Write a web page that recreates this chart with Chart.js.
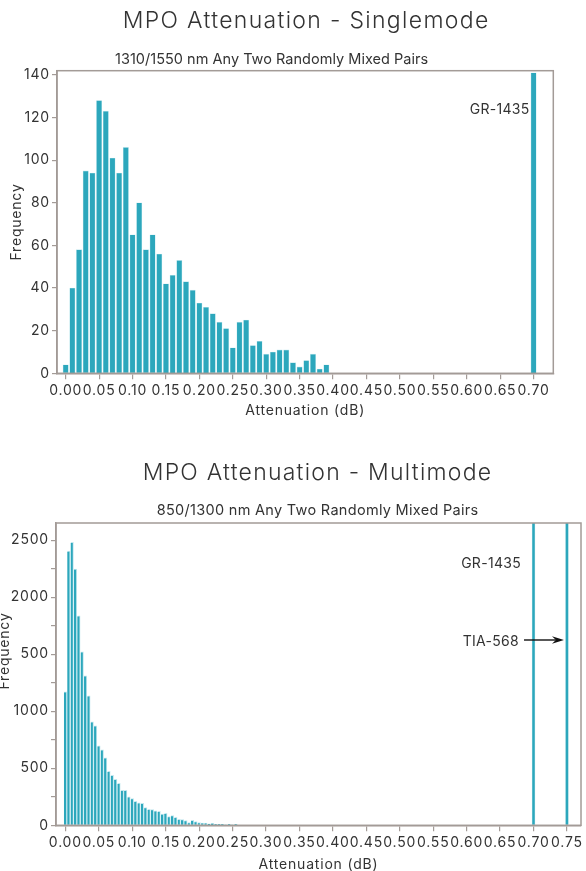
<!DOCTYPE html>
<html><head><meta charset="utf-8">
<script src="https://cdn.jsdelivr.net/npm/chart.js@4.4.1/dist/chart.umd.min.js"></script>
<style>
html,body{margin:0;padding:0;background:#fff;width:586px;height:871px;overflow:hidden;position:relative}
.box{position:absolute;left:0;width:586px}
#b1{top:0;height:435px}
#b2{top:435px;height:440px}
</style></head><body>
<div class="box" id="b1"><canvas id="c1"></canvas></div>
<div class="box" id="b2"><canvas id="c2"></canvas></div>
<script>
// ---------- Singlemode data ----------
const smTitle = 'MPO Attenuation - Singlemode';
const smSubtitle = '1310/1550 nm Any Two Randomly Mixed Pairs';
const smBins = [0.00,0.01,0.02,0.03,0.04,0.05,0.06,0.07,0.08,0.09,
                0.10,0.11,0.12,0.13,0.14,0.15,0.16,0.17,0.18,0.19,
                0.20,0.21,0.22,0.23,0.24,0.25,0.26,0.27,0.28,0.29,
                0.30,0.31,0.32,0.33,0.34,0.35,0.36,0.37,0.38,0.39];
const smCounts = [4,40,58,95,94,128,123,101,94,106,
                  65,80,58,65,56,42,46,53,43,39,
                  33,31,28,24,21,12,24,25,13,15,
                  9,10,11,11,5,3,6,9,2,4];
const smLimitBins = [0.70];
const smLimitCounts = [141];
const smLimitLabels = ['GR-1435'];
const smXTicks = [0.00,0.05,0.10,0.15,0.20,0.25,0.30,0.35,0.40,0.45,0.50,0.55,0.60,0.65,0.70];
const smYTicks = [0,20,40,60,80,100,120,140];

// ---------- Multimode data ----------
const mmTitle = 'MPO Attenuation - Multimode';
const mmSubtitle = '850/1300 nm Any Two Randomly Mixed Pairs';
const mmBins = [0.000,0.005,0.010,0.015,0.020,0.025,0.030,0.035,0.040,0.045,
                0.050,0.055,0.060,0.065,0.070,0.075,0.080,0.085,0.090,0.095,
                0.100,0.105,0.110,0.115,0.120,0.125,0.130,0.135,0.140,0.145,
                0.150,0.155,0.160,0.165,0.170,0.175,0.180,0.185,0.190,0.195,
                0.200,0.205,0.210,0.215,0.220,0.225,0.230,0.235,0.240,0.245,
                0.250,0.255,0.260,0.265,0.270,0.275,0.280,0.285,0.290,0.295];
const mmCounts = [1170,2404,2480,2246,1836,1520,1310,1135,906,871,
                  696,661,591,474,439,404,368,307,307,249,
                  234,211,196,193,155,140,137,126,123,99,
                  105,76,85,70,53,50,41,23,44,32,
                  23,20,20,12,18,9,9,9,2,9,
                  3,9,5,5,5,5,5,0,0,5];
const mmLimitBins = [0.70, 0.75];
const mmLimitCounts = [2650, 2650];
const mmLimitLabels = ['GR-1435', 'TIA-568'];
const mmXTicks = [0.00,0.05,0.10,0.15,0.20,0.25,0.30,0.35,0.40,0.45,0.50,0.55,0.60,0.65,0.70,0.75];
const mmYTicks = [0,250,500,750,1000,1250,1500,1750,2000,2250,2500];
const mmYTickLabels = ['0','','500','','1000','','500','','2000','','2500'];

// ---------- styles ----------
const TEAL = '#2ca7bc';
const LIGHT = '#c2e7ee';
const FRAME = '#a39b97';
const TEXT = '#333333';
const FAM = 'Inter, "Open Sans", sans-serif';

const spacingPlugin = {
  id: 'spacing',
  beforeDraw(chart) { chart.ctx.letterSpacing = '0.8px'; },
  afterDraw(chart) { chart.ctx.letterSpacing = '0px'; }
};

const headingsPlugin = {
  id: 'headings',
  afterDraw(chart, args, o) {
    const ctx = chart.ctx;
    const draw = (text, weight, size, left, right, base) => {
      ctx.save();
      ctx.font = weight + ' ' + size + 'px ' + FAM;
      ctx.fillStyle = TEXT;
      ctx.textBaseline = 'alphabetic';
      ctx.textAlign = 'left';
      ctx.letterSpacing = '0px';
      const w0 = ctx.measureText(text).width;
      const ls = (right - left - w0) / (text.length - 1);
      ctx.letterSpacing = ls.toFixed(2) + 'px';
      ctx.fillText(text, left, base);
      ctx.restore();
    };
    draw(o.title, 300, 23, o.tBox[0], o.tBox[1], o.tBox[2]);
    draw(o.sub, 400, 14.5, o.sBox[0], o.sBox[1], o.sBox[2]);
    if (o.yTitle) {
      ctx.save();
      ctx.font = '400 14px ' + FAM;
      ctx.fillStyle = TEXT;
      ctx.letterSpacing = '0.8px';
      ctx.textAlign = 'center';
      ctx.textBaseline = 'middle';
      ctx.translate(o.yTitle[1], o.yTitle[2]);
      ctx.rotate(-Math.PI / 2);
      ctx.fillText(o.yTitle[0], 0, 0);
      ctx.restore();
    }
  }
};

const framePlugin = {
  id: 'frame',
  afterDraw(chart) {
    const {ctx, chartArea: a} = chart;
    ctx.save();
    ctx.strokeStyle = FRAME;
    ctx.lineWidth = 1.5;
    ctx.strokeRect(a.left, a.top, a.right - a.left, a.bottom - a.top);
    ctx.restore();
  }
};

const notesPlugin = {
  id: 'notes',
  afterDraw(chart, args, o) {
    const ctx = chart.ctx;
    const xs = chart.scales.x, a = chart.chartArea;
    ctx.save();
    ctx.font = '400 14px ' + FAM;
    ctx.letterSpacing = '0.3px';
    ctx.fillStyle = TEXT;
    ctx.textAlign = 'right';
    ctx.textBaseline = 'middle';
    o.items.forEach(it => {
      const lx = xs.getPixelForValue(it.anchor);
      ctx.fillText(it.text, lx - it.dx, a.top + it.dy);
      if (it.arrowTo !== undefined) {
        const tip = xs.getPixelForValue(it.arrowTo) - 3;
        const y = a.top + it.dy - 1.5;
        const x0 = lx - it.dx + 5;
        ctx.strokeStyle = '#111';
        ctx.fillStyle = '#111';
        ctx.lineWidth = 1.4;
        ctx.beginPath(); ctx.moveTo(x0, y); ctx.lineTo(tip - 8, y); ctx.stroke();
        ctx.beginPath();
        ctx.moveTo(tip, y); ctx.lineTo(tip - 12, y - 3.8); ctx.lineTo(tip - 8, y); ctx.lineTo(tip - 12, y + 3.8);
        ctx.closePath(); ctx.fill();
        ctx.fillStyle = TEXT;
      }
    });
    ctx.restore();
  }
};

function axisFont(){ return {family: FAM, size: 14, weight: 400}; }

function makeChart(id, cfg) {
  return new Chart(document.getElementById(id), {
    type: 'bar',
    data: {
      datasets: [
        {
          data: cfg.bins.map((x, i) => ({x: x, y: cfg.counts[i]})),
          backgroundColor: TEAL, borderColor: LIGHT,
          borderWidth: cfg.barBorder, borderSkipped: 'bottom',
          barThickness: cfg.barW, grouped: false
        },
        {
          data: cfg.limBins.map((x, i) => ({x: x, y: cfg.limCounts[i]})),
          backgroundColor: TEAL, borderColor: LIGHT,
          borderWidth: cfg.limBorder, borderSkipped: 'bottom',
          barThickness: cfg.limW, grouped: false
        }
      ]
    },
    options: {
      responsive: true, maintainAspectRatio: false, animation: false,
      layout: {padding: cfg.pad},
      plugins: {
        legend: {display: false}, tooltip: {enabled: false},
        headings: cfg.heads,
        notes: {items: cfg.notes}
      },
      scales: {
        x: {
          type: 'linear', min: cfg.xMin, max: cfg.xMax, offset: false,
          afterBuildTicks: s => { s.ticks = cfg.xTicks.map(v => ({value: v})); },
          afterFit: s => { s.height = cfg.xH; },
          ticks: {autoSkip: false, maxRotation: 0, minRotation: 0, padding: 3,
                  font: axisFont(), color: TEXT, callback: v => Number(v).toFixed(2)},
          grid: {display: true, offset: false, drawOnChartArea: false, drawTicks: true, tickLength: 6, color: FRAME, lineWidth: 1.2},
          border: {display: true, color: FRAME, width: 1.5},
          title: {display: true, text: 'Attenuation (dB)', font: axisFont(), color: TEXT, padding: {top: 0, bottom: 1}}
        },
        y: {
          type: 'linear', min: 0, max: cfg.yMax,
          afterBuildTicks: s => { s.ticks = cfg.yTicks.map(v => ({value: v})); },
          afterFit: s => { s.width = cfg.yW; },
          ticks: {padding: 2, font: axisFont(), color: TEXT, callback: cfg.yCb},
          grid: {display: true, drawOnChartArea: false, drawTicks: true, tickLength: 5, color: FRAME, lineWidth: 1.2},
          border: {display: true, color: FRAME, width: 1.5},
          title: {display: cfg.yTitleBuiltIn, text: 'Frequency', font: axisFont(), color: TEXT, padding: {top: 8, bottom: 0}}
        }
      }
    },
    plugins: [spacingPlugin, headingsPlugin, framePlugin, notesPlugin]
  });
}

makeChart('c1', {
  bins: smBins, counts: smCounts, limBins: smLimitBins, limCounts: smLimitCounts,
  barW: 5.4, barBorder: 0.6, limW: 5.4, limBorder: 0.6,
  xMin: -0.013, xMax: 0.7295, xTicks: smXTicks, xH: 47,
  yMax: 142, yTicks: smYTicks, yW: 57, yTitleBuiltIn: true,
  yCb: v => String(v),
  pad: {top: 70.7, right: 32.7, left: 0, bottom: 14.7},
  heads: {title: smTitle, tBox: [122.7, 488.3, 28.3], sub: smSubtitle, sBox: [115, 428, 64.3]},
  notes: [{text: smLimitLabels[0], anchor: smLimitBins[0], dx: 4, dy: 39.5}]
});

makeChart('c2', {
  bins: mmBins, counts: mmCounts, limBins: mmLimitBins, limCounts: mmLimitCounts,
  barW: 2.8, barBorder: {top: 1, right: 1, left: 0, bottom: 0}, limW: 3, limBorder: {top: 0, right: 0.6, left: 0.6, bottom: 0},
  xMin: -0.014, xMax: 0.771, xTicks: mmXTicks, xH: 49,
  yMax: 2650, yTicks: mmYTicks, yW: 56, yTitleBuiltIn: false,
  yCb: (v, i) => mmYTickLabels[i],
  pad: {top: 88, right: 5, left: 0, bottom: 0.7},
  heads: {title: mmTitle, tBox: [142.7, 491, 45], sub: mmSubtitle, sBox: [156.7, 478.3, 80], yTitle: ['Frequency', 5, 216]},
  notes: [
    {text: mmLimitLabels[0], anchor: mmLimitBins[0], dx: 12.5, dy: 40.5},
    {text: mmLimitLabels[1], anchor: mmLimitBins[0], dx: 14.5, dy: 118.5, arrowTo: mmLimitBins[1]}
  ]
});
</script>
</body></html>
